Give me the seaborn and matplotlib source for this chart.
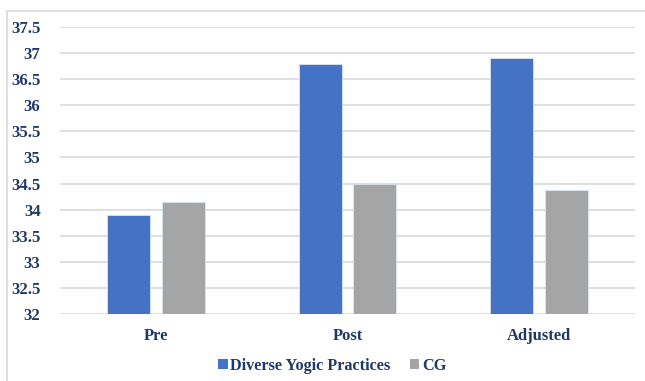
import matplotlib
matplotlib.use("Agg")
import matplotlib.pyplot as plt
from matplotlib.lines import Line2D
from matplotlib.patches import Patch
import seaborn as sns
import pandas as pd

# Scores by phase for the two groups
phases = ["Pre", "Post", "Adjusted"]
groups = ["Diverse Yogic Practices", "CG"]
yogic_values = [33.9, 36.8, 36.9]
cg_values = [34.15, 34.5, 34.38]
y_ticks = [32, 32.5, 33, 33.5, 34, 34.5, 35, 35.5, 36, 36.5, 37, 37.5]
y_tick_labels = ["32", "32.5", "33", "33.5", "34", "34.5", "35", "35.5",
                 "36", "36.5", "37", "37.5"]

colors = {"Diverse Yogic Practices": "#4472C4", "CG": "#A5A5A5"}
text_color = "#1F3864"
grid_color = "#D9D9D9"

df = pd.DataFrame({
    "Phase": phases * 2,
    "Group": [groups[0]] * 3 + [groups[1]] * 3,
    "Score": yogic_values + cg_values,
})

sns.set_theme(style="white")
plt.rcParams["font.family"] = ["Liberation Serif", "DejaVu Serif"]
plt.rcParams["font.weight"] = "bold"

W, H = 645, 381
fig = plt.figure(figsize=(W / 100, H / 100), dpi=100)
fig.patch.set_facecolor("white")

left, right, top, bottom = 60, 635, 27, 314
ax = fig.add_axes([left / W, 1 - bottom / H, (right - left) / W, (bottom - top) / H])

sns.barplot(data=df, x="Phase", y="Score", hue="Group", order=phases,
            hue_order=groups, palette=colors, saturation=1, width=0.573, gap=0.217,
            edgecolor="#DCE4F2", linewidth=0.6, ax=ax, legend=False, zorder=3)

ax.set_ylim(32, 37.5)
ax.set_xlim(-0.5, 2.5)
ax.set_yticks(y_ticks)
ax.set_yticklabels(y_tick_labels)
ax.yaxis.grid(True, color=grid_color, linewidth=1.2, zorder=0)
ax.set_axisbelow(True)
for s in ax.spines.values():
    s.set_visible(False)
ax.set_xlabel("")
ax.set_ylabel("")
ax.tick_params(axis="y", length=0, pad=14, labelsize=12, labelcolor=text_color)
ax.tick_params(axis="x", length=0, pad=10, labelsize=12, labelcolor=text_color)
for lbl in ax.get_xticklabels() + ax.get_yticklabels():
    lbl.set_fontweight("bold")

handles = [Patch(facecolor=colors[g], edgecolor="none") for g in groups]
leg = fig.legend(handles, groups, loc="center", bbox_to_anchor=(332 / W, 1 - 366 / H),
                 ncol=2, frameon=False, handlelength=0.6, handleheight=0.6,
                 handletextpad=0.15, columnspacing=1.2, borderpad=0,
                 prop={"family": "Liberation Serif", "weight": "bold", "size": 11.7})
for t in leg.get_texts():
    t.set_color(text_color)

# Chart-area frame
fig.add_artist(Line2D([7 / W, 7 / W], [0, 1 - 11 / H], transform=fig.transFigure,
                      color=grid_color, linewidth=1.2))
fig.add_artist(Line2D([7 / W, 1], [1 - 11 / H, 1 - 11 / H], transform=fig.transFigure,
                      color=grid_color, linewidth=1.2))

fig.savefig("out.png", dpi=100)
